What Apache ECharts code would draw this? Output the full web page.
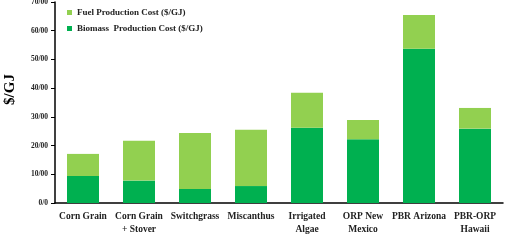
<!DOCTYPE html>
<html>
<head>
<meta charset="utf-8">
<script src="https://cdn.jsdelivr.net/npm/echarts@6/dist/echarts.min.js"></script>
<style>
  html, body {margin: 0; padding: 0; background: #fff;}
  #chart {width: 505px; height: 246px;}
</style>
</head>
<body>
<div id="chart"></div>
<script>
var categories = ['Corn Grain', 'Corn Grain\n+ Stover', 'Switchgrass', 'Miscanthus',
  'Irrigated\nAlgae', 'ORP New\nMexico', 'PBR Arizona', 'PBR-ORP\nHawaii'];
var biomassCost = [9.4, 7.8, 4.9, 5.9, 26.2, 22.2, 53.7, 25.9];
var fuelCost = [7.7, 13.9, 19.5, 19.6, 12.2, 6.7, 11.8, 7.2];
var yTicks = {min: 0, max: 70, step: 10};

var font = 'Liberation Serif';
var myChart = echarts.init(document.getElementById('chart'));
myChart.setOption({
  animation: false,
  textStyle: {fontFamily: font},
  legend: {
    data: ['Fuel Production Cost ($/GJ)', 'Biomass  Production Cost ($/GJ)'],
    orient: 'vertical',
    left: 62,
    top: 3,
    itemWidth: 5,
    itemHeight: 5,
    itemGap: 7,
    icon: 'rect',
    textStyle: {fontFamily: font, fontWeight: 'bold', fontSize: 9, color: '#222'}
  },
  grid: {left: 55, right: 2, top: 2, bottom: 43, outerBoundsMode: 'none'},
  xAxis: {
    type: 'category',
    data: categories,
    axisLine: {lineStyle: {color: '#000', width: 1.5}},
    axisTick: {show: false},
    axisLabel: {
      interval: 0,
      margin: 7,
      fontFamily: font,
      fontWeight: 'bold',
      fontSize: 9.5,
      lineHeight: 13,
      color: '#222'
    }
  },
  yAxis: {
    type: 'value',
    min: yTicks.min,
    max: yTicks.max,
    interval: yTicks.step,
    name: '$/GJ',
    nameLocation: 'middle',
    nameGap: 37,
    nameRotate: 90,
    nameTextStyle: {fontFamily: font, fontWeight: 'bold', fontSize: 15, color: '#000', padding: [0, 0, 0, 26]},
    splitLine: {show: false},
    axisLine: {show: true, lineStyle: {color: '#000', width: 1.5}},
    axisTick: {show: true, length: 4, lineStyle: {color: '#000'}},
    axisLabel: {
      fontFamily: font,
      fontWeight: 'bold',
      fontSize: 7.5,
      color: '#222',
      margin: 7,
      formatter: function (v) { return v === 0 ? '0/0' : v + '/00'; }
    }
  },
  series: [{
    name: 'Biomass  Production Cost ($/GJ)',
    type: 'bar',
    stack: 'cost',
    data: biomassCost,
    barWidth: 32,
    itemStyle: {color: '#00b050'}
  }, {
    name: 'Fuel Production Cost ($/GJ)',
    type: 'bar',
    stack: 'cost',
    data: fuelCost,
    barWidth: 32,
    itemStyle: {color: '#92d050'}
  }]
});
</script>
</body>
</html>
